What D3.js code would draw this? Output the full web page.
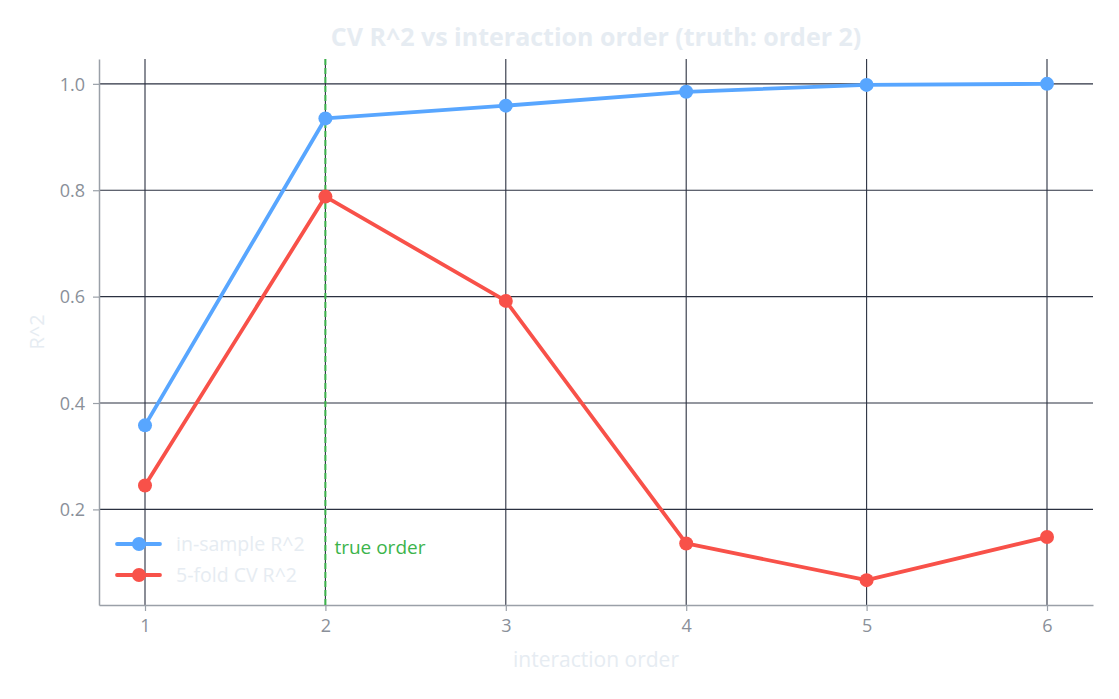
<!DOCTYPE html>
<html>
<head>
<meta charset="utf-8">
<script src="https://cdn.jsdelivr.net/npm/d3@7"></script>
<style>
  body { margin: 0; background: #ffffff; }
  text { font-family: "Open Sans", "Noto Sans", sans-serif; }
</style>
</head>
<body>
<div id="chart"></div>
<script>
// Data
const orders = [1, 2, 3, 4, 5, 6];
const inSample = [0.358, 0.935, 0.959, 0.985, 0.998, 1.0];
const cvScores = [0.245, 0.788, 0.592, 0.136, 0.067, 0.148];
const yTicks = [0.2, 0.4, 0.6, 0.8, 1.0];
const trueOrder = 2;

const W = 1119, H = 699;
const margin = { top: 59, right: 26, bottom: 94, left: 99 };
const width = W - margin.left - margin.right;
const height = H - margin.top - margin.bottom;

const svg = d3.select("#chart").append("svg")
    .attr("width", W)
    .attr("height", H);

const g = svg.append("g")
    .attr("transform", `translate(${margin.left},${margin.top})`);

const x = d3.scaleLinear().domain([0.745, 6.255]).range([0, width]);
const y = d3.scaleLinear().domain([0.0203, 1.0467]).range([height, 0]);

// Gridlines
g.append("g").selectAll("line")
    .data(yTicks)
    .join("line")
    .attr("x1", 0).attr("x2", width)
    .attr("y1", d => y(d)).attr("y2", d => y(d))
    .attr("stroke", "#2b3140").attr("stroke-width", 1.1);

g.append("g").selectAll("line")
    .data(orders)
    .join("line")
    .attr("x1", d => x(d)).attr("x2", d => x(d))
    .attr("y1", 0).attr("y2", height)
    .attr("stroke", "#2b3140").attr("stroke-width", 1.1);

// Axes
const xAxis = g.append("g")
    .attr("transform", `translate(0,${height})`)
    .call(d3.axisBottom(x).tickValues(orders).tickFormat(d3.format("d"))
        .tickSize(6).tickSizeOuter(0).tickPadding(8));
const yAxis = g.append("g")
    .call(d3.axisLeft(y).tickValues(yTicks).tickFormat(d3.format(".1f"))
        .tickSize(6).tickSizeOuter(0).tickPadding(8));

[xAxis, yAxis].forEach(a => {
    a.select(".domain").attr("stroke", "#9aa0a8").attr("stroke-width", 1.5);
    a.selectAll(".tick line").attr("stroke", "#9aa0a8").attr("stroke-width", 1.2);
    a.selectAll(".tick text")
        .attr("fill", "#8a9099")
        .style("font-size", "18px");
});
yAxis.selectAll(".tick text").attr("dy", "0.35em");

// True order marker
g.append("line")
    .attr("x1", x(trueOrder)).attr("x2", x(trueOrder))
    .attr("y1", 0).attr("y2", height)
    .attr("stroke", "#3cb44b")
    .attr("stroke-width", 2)
    .attr("stroke-dasharray", "6,3");

g.append("text")
    .attr("x", x(trueOrder) + 9)
    .attr("y", y(0.128))
    .attr("fill", "#3cb44b")
    .style("font-size", "19px")
    .attr("dy", "0.35em")
    .text("true order");

// Series
const series = [
    { name: "in-sample R^2", values: inSample, color: "#58a6ff" },
    { name: "5-fold CV R^2", values: cvScores, color: "#f85149" }
];

const line = d3.line()
    .x((d, i) => x(orders[i]))
    .y(d => y(d));

series.forEach(s => {
    g.append("path")
        .datum(s.values)
        .attr("fill", "none")
        .attr("stroke", s.color)
        .attr("stroke-width", 3.8)
        .attr("stroke-linejoin", "round")
        .attr("d", line);

    g.append("g").selectAll("circle")
        .data(s.values)
        .join("circle")
        .attr("cx", (d, i) => x(orders[i]))
        .attr("cy", d => y(d))
        .attr("r", 7)
        .attr("fill", s.color);
});

// Legend
const legend = g.append("g")
    .attr("transform", `translate(18, ${544 - margin.top})`);

series.forEach((s, i) => {
    const row = legend.append("g")
        .attr("transform", `translate(0, ${i * 31})`);
    row.append("line")
        .attr("x1", 0).attr("x2", 43)
        .attr("stroke", s.color)
        .attr("stroke-width", 3.8)
        .attr("stroke-linecap", "round");
    row.append("circle")
        .attr("cx", 22).attr("cy", 0).attr("r", 7)
        .attr("fill", s.color);
    row.append("text")
        .attr("x", 59).attr("y", 0)
        .attr("dy", "0.35em")
        .attr("fill", "#e6ecf2")
        .style("font-size", "19.5px")
        .text(s.name);
});

// Title and axis labels
svg.append("text")
    .attr("x", margin.left + width / 2)
    .attr("y", 37)
    .attr("dy", "0.35em")
    .attr("text-anchor", "middle")
    .attr("fill", "#e6ecf2")
    .style("font-size", "25px")
    .style("font-weight", "bold")
    .text("CV R^2 vs interaction order (truth: order 2)");

svg.append("text")
    .attr("x", margin.left + width / 2)
    .attr("y", 660)
    .attr("dy", "0.35em")
    .attr("text-anchor", "middle")
    .attr("fill", "#e6ecf2")
    .style("font-size", "21px")
    .text("interaction order");

svg.append("text")
    .attr("transform", `translate(37, ${margin.top + height / 2}) rotate(-90)`)
    .attr("dy", "0.35em")
    .attr("text-anchor", "middle")
    .attr("fill", "#e6ecf2")
    .style("font-size", "20px")
    .text("R^2");
</script>
</body>
</html>
